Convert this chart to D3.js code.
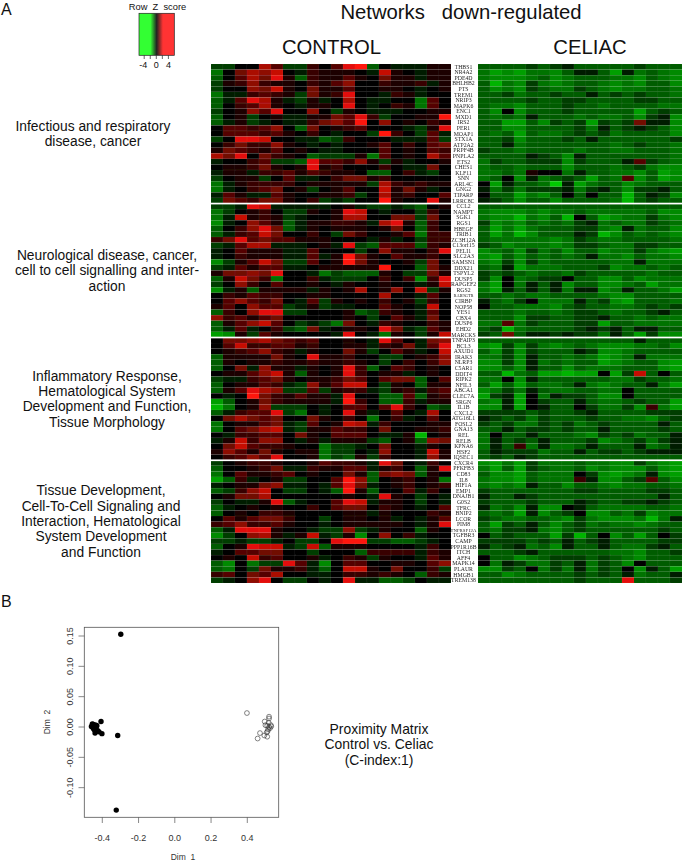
<!DOCTYPE html>
<html><head><meta charset="utf-8">
<script src="https://cdn.jsdelivr.net/npm/d3@7/dist/d3.min.js"></script>
<style>html,body{margin:0;padding:0;background:#fff}svg{display:block}</style>
</head><body><div id="chart"></div>
<script>
// Gene labels, one list per network
const genes1 = ["THBS1","NR4A2","PDE4D","BHLHB2","PTS","TREM1","NRIP3","MAPK6","ENC1","MXD1","IRS2","PER1","MOAP1","STX1A","ATP2A2","PRPF4B","PNPLA2","ETS2","CHES1","KLF11","SNN","ARL4C","GNG2","TIPARP","LRRC8C"];
const genes2 = ["CCL2","NAMPT","SGK1","RGS1","HBEGF","TRIB1","ZC3H12A","C13orf15","PELI1","SLC2A3","SAMSN1","DDX21","TSPYL2","DUSP5","RAPGEF2","RGS2","RAB9GTR","CIRBP","NOP58","YES1","CBX4","DUSP6","EHD2","MARCKS"];
const genes3 = ["TNFAIP3","BCL3","AXUD1","IRAK3","NLRP3","C5AR1","DDIT4","RIPK2","NFIL3","ABCA1","CLEC7A","SRGN","IL1B","CXCL2","ATG16L1","FOSL2","GNA13","REL","RELB","KPNA6","HSF2","IQSEC1"];
const genes4 = ["CXCR4","PFKFB3","CD83","IL8","HIF1A","EMP1","DNAJB1","G0S2","TFRC","BNIP2","LCOR","PIM8","TNFRSF12A","TGFBR3","CAMP","PPP1R16B","ITCH","AFF4","MAPK14","PLAUR","HMGB1","TREM138"];

// Heat values, in steps of -9 (full green) .. 9 (full red)
const control1 = [
[-2,-2,0,0,6,3,-2,-2,2,0,3,8,9,-3,0,-1,-1,-1,1,1],
[-4,0,4,6,5,7,0,-1,2,1,1,1,0,-1,7,1,0,-1,1,1],
[-3,0,3,6,4,8,1,-3,2,1,1,3,1,0,4,1,1,-1,1,1],
[-2,1,2,5,2,1,1,0,2,1,3,5,0,0,2,1,1,2,-1,1],
[-2,0,0,5,4,7,1,0,4,1,1,3,0,0,1,1,0,-1,0,1],
[-4,-1,-1,2,3,2,1,-2,4,1,2,8,0,0,-1,2,1,-1,0,0],
[-3,-1,3,8,6,1,-1,-2,1,-1,0,6,0,-1,-1,0,0,-4,3,0],
[-3,0,2,3,6,1,0,-1,1,1,0,8,0,-1,0,2,1,-4,3,0],
[-2,0,1,5,3,8,0,0,5,0,-2,1,0,-1,-1,-1,0,0,1,1],
[-3,0,1,-2,0,1,-1,-1,1,1,4,3,8,2,-2,0,0,1,1,9],
[-3,-1,1,-2,-1,0,-1,-1,2,4,5,3,9,0,5,0,1,0,2,1],
[0,3,3,2,3,5,0,-3,4,0,1,2,3,0,0,0,-1,-2,1,8],
[0,3,3,3,2,3,1,0,2,0,-1,0,0,-2,9,2,0,-2,3,-1],
[-2,0,8,8,7,0,0,-1,-1,-3,-2,2,0,0,0,-1,-1,-1,3,-2],
[0,2,4,2,2,5,1,0,-1,0,-1,0,0,1,3,0,2,0,3,4],
[1,4,3,2,1,3,0,1,0,-1,-1,0,0,0,3,0,1,0,3,2],
[6,4,8,0,4,2,1,0,-3,-2,-2,-2,1,-4,3,0,1,0,6,3],
[-1,0,0,2,3,-2,-2,-3,8,3,3,2,5,1,-2,1,-1,0,0,1],
[0,1,1,2,4,1,0,1,8,1,2,0,0,0,2,0,-1,-1,4,0],
[-1,1,1,-1,2,2,3,1,3,2,1,1,0,-3,-3,0,2,-1,-2,0],
[-2,0,1,1,-2,0,3,-1,-1,0,2,4,4,1,2,0,0,0,0,0],
[-4,-1,1,2,2,2,2,0,1,1,1,1,1,-2,6,2,1,2,1,1],
[-4,-1,0,2,3,4,0,1,-2,0,1,3,0,0,7,1,4,1,-1,0],
[-1,3,1,-1,-1,3,1,0,0,1,1,2,-2,0,6,1,2,0,0,3],
[-2,4,3,2,4,4,1,0,2,-2,-1,-2,0,0,9,1,0,0,8,1]];
const control2 = [
[-2,-2,-1,8,7,-1,-1,-1,-1,-1,0,1,-1,-2,-2,-1,-2,-3,0,1],
[-4,-2,0,1,2,0,-2,-2,1,0,1,8,7,0,-1,0,0,-2,2,0],
[-4,-1,7,1,2,1,-2,-1,0,0,1,6,6,0,0,4,4,-2,4,0],
[-5,-1,0,5,3,1,-3,-1,1,1,2,2,1,-1,6,8,1,-3,2,0],
[-3,0,2,5,8,4,-3,-1,1,0,1,1,1,0,1,4,0,-3,2,0],
[-3,-1,2,3,7,4,0,0,2,0,-2,4,2,0,0,1,3,-4,2,2],
[2,4,8,3,4,3,3,1,1,1,0,0,0,-1,1,-1,0,-2,2,2],
[-2,-1,3,6,6,-1,-1,-1,0,1,-1,8,-2,-3,3,3,3,-3,2,1],
[-1,0,3,1,1,1,-1,-1,3,0,0,0,-2,0,5,1,1,0,2,8],
[-1,0,2,1,1,1,-1,-1,3,-1,1,9,4,1,0,3,1,1,2,0],
[-5,-2,1,3,7,4,-2,-2,3,0,1,9,4,1,0,0,1,-2,4,0],
[-2,-1,3,1,3,3,-1,-1,0,1,1,1,1,1,9,0,0,-3,4,1],
[1,4,4,5,4,8,0,0,-1,-4,-2,-3,-3,-3,1,0,-2,-2,4,1],
[-3,1,7,4,2,-4,0,0,2,-1,-2,-2,-2,0,2,0,2,-5,2,8],
[-2,0,5,2,0,3,0,0,1,0,-1,1,0,0,1,0,0,-1,1,7],
[-5,-1,1,-3,1,1,1,1,-1,1,0,1,6,0,1,5,0,7,-2,1],
[0,2,1,3,2,2,0,0,1,1,0,0,0,0,6,0,0,-1,3,0],
[0,3,5,3,2,4,0,-1,3,-2,1,0,1,0,2,0,1,-2,2,0],
[1,3,0,5,3,3,-2,-1,1,-2,-1,-1,0,0,3,1,0,-1,7,0],
[-3,2,0,5,8,8,-2,-2,0,0,0,1,-3,-2,2,1,0,-1,3,0],
[5,2,3,1,3,4,0,0,0,0,0,1,0,-2,0,3,1,-1,4,0],
[-3,1,3,5,7,3,0,-2,-1,-2,-4,4,0,-1,2,1,0,0,2,1],
[-3,-1,3,-1,0,2,-2,-3,4,-1,0,1,1,0,8,4,-1,-2,3,1],
[-6,-5,1,-2,3,1,0,0,0,0,-1,8,0,-1,-4,1,0,-2,1,7]];
const control3 = [
[0,4,4,5,6,4,3,2,3,0,0,1,0,-1,8,3,0,-1,4,5],
[0,3,7,2,2,3,3,1,2,0,0,1,1,-1,2,1,4,-1,3,8],
[0,1,2,3,5,2,1,-1,1,0,0,4,1,-2,0,3,1,-1,0,7],
[-3,1,1,1,1,4,1,0,8,1,1,2,0,0,-2,-2,0,1,2,5],
[-3,1,0,1,1,2,1,1,2,1,1,2,1,0,-2,0,2,0,2,5],
[-3,0,4,-1,5,1,1,-1,1,0,1,8,2,-3,0,3,2,0,1,0],
[0,1,1,3,5,7,1,-3,1,0,1,8,2,0,1,1,-1,0,1,0],
[-2,-1,-1,2,3,4,1,0,1,1,2,4,3,0,3,4,4,-3,0,3],
[-3,0,1,1,3,2,-1,-2,5,1,3,7,7,0,-2,1,0,-3,1,1],
[-3,1,3,8,6,5,-2,-2,3,-2,1,2,2,-1,-2,1,2,-1,2,3],
[0,-1,0,9,4,2,1,3,1,1,-1,8,0,0,-3,-3,3,-3,1,2],
[-6,-3,0,1,4,2,1,1,1,1,-1,9,2,0,-3,-3,2,-1,1,1],
[-7,-4,0,1,5,-2,-2,-2,0,-1,0,3,3,0,3,8,2,0,-3,-2],
[-3,-1,2,3,3,8,-2,-4,0,-1,0,8,1,-1,0,3,0,-1,6,0],
[0,4,6,4,3,4,0,0,4,1,0,2,0,-4,0,2,-1,0,3,0],
[-4,0,1,1,3,4,-1,-2,3,0,1,7,6,-1,2,0,0,0,1,1],
[-4,0,3,4,6,7,-1,-2,1,1,3,2,2,0,4,0,0,1,1,2],
[0,-1,2,2,3,3,0,4,1,0,3,3,3,0,-1,-1,1,-7,0,1],
[-1,1,7,2,5,5,0,-1,1,-1,1,1,1,-2,-3,0,1,-3,5,4],
[0,4,7,3,2,2,1,0,0,-4,-2,-2,-1,0,4,0,0,-1,1,0],
[1,5,3,1,4,1,0,1,1,-4,-2,-2,0,-1,5,0,0,-1,7,1],
[0,2,3,5,3,8,0,0,1,-4,-2,-3,1,-2,2,0,0,-1,5,1]];
const control4 = [
[-2,0,1,2,2,1,0,0,1,3,2,2,1,-1,8,4,0,-1,2,0],
[-3,0,0,1,2,4,-1,-1,2,1,1,3,3,-1,1,2,0,-3,1,8],
[-4,0,3,1,1,2,3,0,1,0,0,4,1,-3,4,5,4,-3,1,0],
[-6,-3,2,-1,0,1,-2,-2,0,0,3,9,5,-3,0,1,2,0,1,-4],
[-1,0,1,1,4,5,-1,-1,0,-1,3,8,4,-1,0,1,2,0,1,2],
[-3,-2,2,5,7,0,-2,-2,0,-1,-3,9,1,-3,0,0,3,-1,2,0],
[0,1,4,4,6,0,0,0,0,0,0,1,0,-1,8,1,0,-2,0,-1],
[-2,0,-1,-1,1,8,-3,-1,0,0,3,8,7,-1,1,1,0,-2,0,-1],
[-3,-1,0,1,0,1,0,0,2,0,3,4,4,0,2,1,0,-1,0,3],
[-3,0,1,0,2,2,1,0,0,0,0,1,1,-1,1,0,0,0,2,1],
[0,3,1,3,4,4,2,0,0,-2,0,1,1,0,1,-1,0,-1,1,3],
[2,3,5,2,2,3,1,0,0,-1,0,1,1,1,1,1,0,-1,1,8],
[-3,-1,8,8,8,1,0,0,-1,-2,-2,5,-2,-1,1,0,0,-3,1,0],
[-5,-2,0,5,6,1,-1,1,7,-1,-2,1,-5,0,5,0,2,-1,0,0],
[-2,-2,-1,-2,-2,-1,0,-2,-2,0,8,9,9,-2,-2,-3,-3,-2,-1,0],
[-3,0,1,8,7,7,-1,-2,7,-3,1,1,1,0,0,0,0,-1,2,0],
[-1,0,3,3,4,4,0,0,-2,0,0,0,-3,2,2,2,2,-1,2,1],
[0,1,0,7,2,3,0,0,1,-1,0,2,1,-2,1,0,0,-1,3,1],
[-3,-5,0,-4,-2,-2,8,3,-1,-5,0,3,3,0,0,1,1,0,3,5],
[-3,-4,0,-2,4,1,1,2,-1,-3,0,7,7,1,0,4,0,0,2,-2],
[2,3,0,4,3,6,0,0,-1,-1,0,2,2,1,2,1,0,-3,2,1],
[-2,-1,0,5,8,0,-2,-2,0,-1,0,8,-1,-1,-3,-3,-2,0,-1,-1]];
const celiac1 = [
[-3,-3,-3,-3,-2,-3,-2,-1,-3,-3,-3,-3,-3,-2,-3,-3,-3],
[-4,-6,-5,-6,-4,-4,-5,-3,-1,-1,-3,-6,-1,-4,-3,-4,-5],
[-4,-5,-5,-5,-4,-3,-5,-4,-3,-3,-3,-4,-4,-5,-3,-4,-5],
[-3,-7,-4,-5,-2,-4,-5,-4,-3,-3,-4,-5,-4,-5,-3,-3,-5],
[-3,-5,-4,-5,-2,-3,-4,-4,-2,-3,-4,-5,-4,-4,-3,-3,-4],
[-3,-3,-2,-4,-3,-3,-2,-3,-3,-1,-3,-2,-3,-2,-3,-3,-4],
[-3,-3,-3,-3,-2,-3,-3,-2,-2,-3,-3,-3,-3,-2,-2,-3,-3],
[-3,-4,-4,-5,-3,-3,-3,-2,-3,-3,-4,-3,-3,-3,-3,-4,-4],
[-3,-5,0,-5,-3,-3,-3,-2,-3,-3,-3,-3,-3,-6,-3,-2,-3],
[-3,-4,-3,-4,-1,-3,-3,-3,-4,-3,-4,-4,-3,-5,-2,-1,-5],
[-3,-3,-6,-6,-3,-5,-2,-3,-2,-6,-2,-3,-2,4,-1,-1,-5],
[-3,-3,-5,-5,-3,-3,-3,-3,-2,-4,-1,-3,-2,-1,-2,-3,-5],
[-3,-4,-3,-6,-3,-4,-4,-3,-2,-3,-2,-4,-3,-3,-3,-3,-5],
[-3,-3,-2,-5,-3,-3,-3,-2,-3,-1,-3,-3,-3,-3,-3,-3,-2],
[-3,-3,-1,-4,-3,-3,-3,-3,-3,-3,-3,-4,-3,-2,-3,-3,-4],
[-2,-3,-3,-4,-3,-3,-3,-3,-4,-3,-3,-4,-4,-3,-3,-3,-4],
[-3,-3,-3,-3,-1,-2,-3,-5,-1,-3,-3,-3,-3,-3,-3,-3,-4],
[-4,-2,-3,-3,-2,-2,-2,-5,-2,-3,-3,-3,-1,3,-2,-3,-4],
[-4,-3,-3,-4,-3,-3,-3,-5,-3,-3,-3,-4,-3,-2,-4,-5,-5],
[-4,-4,-3,-4,1,0,0,-4,-1,-3,-3,-4,-4,-5,-3,-6,-5],
[-4,-3,0,-5,-1,-4,-3,-2,-3,-6,-3,-4,3,-5,-3,-6,-5],
[0,-6,-1,-3,-3,-4,-8,-1,-6,-4,-3,-3,-5,-4,-3,-3,-3],
[-1,-4,-2,-4,-2,-2,-2,-1,-4,-2,-1,-3,-5,-2,-2,-1,-3],
[0,-3,-3,-6,-4,-5,-3,0,-3,0,-3,-3,-7,-3,-1,-2,-5],
[-1,-2,-3,-5,-3,-3,-5,-3,-3,-3,-3,-4,-7,-3,-2,-3,-3]];
const celiac2 = [
[-3,-3,-3,-3,-3,-3,-3,-3,-3,-3,-3,-3,-3,-3,-3,-3,-3],
[-4,-5,-5,-5,-4,-5,-4,-4,-3,-4,-4,-4,-4,-4,-3,-5,-5],
[-4,-5,-5,-7,-4,-5,-3,-7,0,-3,-6,-5,-4,-4,-2,-4,-5],
[-2,-5,-4,-5,-3,-4,-3,-4,-2,-1,-4,-3,-4,-4,-2,-3,-4],
[-3,-6,-4,-6,-4,-3,-3,-3,-2,-2,-4,-5,-1,-4,-3,-3,-5],
[-3,-6,-4,-7,-5,-3,-3,-3,-1,-2,-7,-5,-3,-4,-3,-4,-5],
[-3,-4,-4,-4,-4,-4,-5,-4,-2,-3,-4,-4,-3,-3,-3,-3,-4],
[-2,-3,-5,-4,-4,-4,-5,-4,-2,-2,-3,-4,-4,-2,-2,-3,-3],
[-5,-4,-3,-5,-2,-4,-3,-5,-3,-3,-5,-4,-4,-2,-4,-5,-6],
[-5,-6,-3,-5,-3,-4,-3,-4,-3,-1,-4,-4,-5,-3,-4,-4,-5],
[-4,-5,-2,-5,-2,-4,-3,-3,-3,-3,-3,-4,-4,-1,-4,-4,-4],
[-3,-4,-1,-6,-4,-4,-4,-3,-3,-3,-2,-5,-4,-4,-3,-4,-3],
[-2,-3,-2,-3,-4,-3,-3,-4,-2,-3,-3,-3,-3,-3,-4,-3,-3],
[-2,-5,0,-4,-3,-2,-2,0,-3,-3,-5,-5,-3,-5,-4,-4,-4],
[-4,-6,0,-4,-1,-3,-1,-5,-3,-3,-5,-5,-4,-3,-6,-4,-4],
[-4,-6,-1,-3,-1,-3,-1,-4,-1,-1,-5,-4,-1,-3,-3,-4,-6],
[-3,-3,-4,-3,-4,-4,-3,-3,-3,-3,-4,-5,-5,-3,-3,-3,-3],
[-1,-3,-4,-2,0,-4,-4,-4,-1,-3,-2,-5,-6,-3,-3,-3,-4],
[0,-3,-3,-4,-4,-4,-5,-3,-2,-3,-3,-4,-4,-3,-2,-3,-2],
[-3,-3,-3,-4,-3,-3,-4,-3,-2,-2,-3,-4,-3,-3,-2,-1,-3],
[-3,-3,-3,-5,-2,-2,-3,-3,-2,-2,-1,-3,-3,-4,-3,-4,-4],
[-4,-4,3,-4,-2,-3,-3,-3,-2,-2,-6,-3,-3,-4,-4,-4,-4],
[-3,-2,-7,-4,-3,-3,-3,-3,-2,-1,-2,-1,-3,-1,-1,-3,-3],
[-2,-3,4,-3,-1,-1,-2,-1,-2,-2,-4,-1,-3,-6,-2,-5,-5]];
const celiac3 = [
[-3,-3,-3,-3,-3,-3,-3,-3,-3,-3,-3,-3,-3,-1,-3,-3,-3],
[-5,-6,-2,-5,-2,-4,-5,-4,-3,-4,-5,-5,-5,-4,-4,-3,-5],
[-3,-5,-2,-5,-2,-3,-3,-3,-1,-2,-5,-5,-4,-3,-3,-3,-3],
[-4,-4,-2,-5,-1,-3,-3,-4,-3,-4,-6,-5,-4,-1,-4,-4,-4],
[-5,-5,-2,-5,-1,-4,-3,-4,-3,-3,-6,-5,-4,-3,-3,-5,-6],
[-5,-5,-3,-5,-1,-3,-3,-5,-3,-4,-4,-4,-3,-3,-3,-5,-6],
[-3,-3,-7,-4,-3,-6,-6,-7,-6,-6,0,-6,-2,7,-3,0,-3],
[-4,-4,0,-5,-1,-3,-3,-3,-3,-3,-3,-4,-4,-2,-3,-3,-4],
[-3,-6,-3,-6,-3,-4,-4,-3,-1,-4,-5,-4,-3,-3,-1,-4,-6],
[-5,-4,-2,-4,-1,-3,-4,-4,-3,-3,-4,-4,0,-3,-3,-3,-3],
[-6,-2,-1,-6,0,-4,-1,-2,-2,-3,-5,-5,0,-3,-3,-3,-3],
[-4,-5,-1,-6,0,-2,-3,-3,-1,-3,-4,-4,-3,-2,-3,-3,-6],
[-5,-5,-1,-6,0,-1,-3,-3,0,-2,-4,-4,-2,-5,2,-4,-6],
[-2,-2,-2,-2,-3,-2,-3,-3,-2,-1,-3,-3,-3,-3,-2,-2,-2],
[-1,-2,-3,-2,-4,-2,-3,-3,-3,-2,-3,-3,-4,-4,-5,-3,-2],
[-2,-3,-2,-4,-4,-2,-3,-2,-4,-3,-2,-3,-3,-3,-3,-1,-3],
[-3,-3,-1,-3,-2,-2,-3,-2,-3,-3,-1,-3,-3,-3,-3,-2,-3],
[-4,0,-3,-3,-1,-3,-3,-3,-4,-5,-2,-3,-2,-4,-3,-3,-1],
[-4,-1,-3,-2,-3,-1,-3,-3,-3,-2,-5,-4,-3,-2,-4,-2,-1],
[-4,-1,-3,2,-4,-1,-4,-4,-3,-1,-3,-3,-3,-1,-4,-3,-1],
[-3,-1,-2,-2,-2,-4,-3,-3,-1,-3,-2,-2,-3,-2,-1,-1,-1],
[-3,-2,-3,-1,-2,-3,-3,-3,-3,-3,-3,-3,-3,-3,-3,-3,-3]];
const celiac4 = [
[-5,-6,-4,-6,-2,-4,-4,-4,-3,-4,-4,-5,-5,-2,-4,-5,-6],
[-4,-6,-3,-6,-2,-3,-4,-4,-3,-5,-4,-5,-5,-5,-3,-5,-6],
[-3,-5,-5,-6,-3,-4,-4,-4,0,-2,-5,-6,-5,-4,-1,-5,-6],
[-4,-5,-5,-6,-3,-4,-4,-4,2,-1,-5,-5,-3,-2,3,-3,-5],
[-4,-5,-4,-5,-1,-3,-3,-5,-3,-3,-4,-5,-4,-4,-3,-3,-4],
[-2,-3,-3,-3,-3,-3,-3,-3,-2,-2,-3,-3,-3,-3,-2,-2,-3],
[-1,-3,-3,-1,-2,-3,-3,-3,-3,-3,-3,-3,-3,-3,-3,-1,-3],
[-2,-3,-3,-3,-2,-3,-3,-3,-1,-2,-3,-3,-2,-2,-1,-2,-3],
[-1,-4,-3,-5,-1,-5,-5,0,-1,-3,-4,-4,-4,-4,-3,-3,-4],
[-3,-4,-3,-6,-1,-5,-3,-2,0,-5,-5,-3,-4,-2,-5,-4,-4],
[-2,-3,-4,-4,-3,-3,-4,-5,-2,-4,-5,-5,-5,-4,-7,-4,-1],
[-3,-6,-2,-3,-1,-3,-5,-3,-2,-4,-3,-4,-4,-5,-4,-3,-3],
[-3,-4,-2,-2,-1,-4,-5,-3,-2,-3,-3,-3,-3,-3,-3,-2,-3],
[0,-3,-2,-3,-3,-3,-6,-2,-7,-3,0,-5,-3,-6,-3,0,-2],
[-2,-2,-2,-2,-3,-2,-3,-1,-3,-2,-1,-3,-3,-3,-3,-2,-2],
[-1,-3,-2,-1,-4,-3,-5,-1,-3,-3,-1,-3,-4,-4,-2,-1,-3],
[-3,-3,-3,-2,-1,-3,-3,-3,-3,-3,-3,-4,-4,-5,-3,-3,-2],
[0,-3,-3,-5,-4,-3,-2,-2,-2,-3,-2,-3,-4,-5,-3,-3,-3],
[0,-4,-1,-2,-4,-4,-2,-3,-1,-4,-2,-3,-5,0,-3,-3,-3],
[-5,-5,-2,-3,0,-4,-2,-4,-1,-4,-2,-3,0,-5,-1,-3,-6],
[-3,-3,-5,-4,-3,-3,-3,-3,-2,-3,-2,-3,-1,-4,-3,-3,-1],
[-3,-3,-3,-3,-3,-3,-3,-3,-2,-3,-3,-3,8,-3,-3,-3,-2]];

// Legend ticks
const legendTicks = [-4,-2,0,2,4];
const legendLabels = [-4,0,4];

// MDS proximity points [Dim 1, Dim 2]
const controlPoints = [[-0.298,0.153],[-0.407,0.009],[-0.315,-0.014],[-0.323,-0.137],[-0.402,-0.011],[-0.44,-0.010],[-0.46,0.001],[-0.455,0.005],[-0.45,-0.002],[-0.445,0.001],[-0.44,0.003],[-0.435,-0.002],[-0.43,0.002],[-0.44,-0.005],[-0.425,-0.006],[-0.45,0.004],[-0.435,0.003],[-0.445,-0.004],[-0.418,-0.008]];
const celiacPoints = [[0.398,0.023],[0.52,0.017],[0.52,0.014],[0.496,0.009],[0.518,0.007],[0.50,0.003],[0.51,0.002],[0.532,0.001],[0.52,0],[0.525,-0.002],[0.515,-0.004],[0.507,-0.009],[0.512,-0.007],[0.47,-0.01],[0.494,-0.014],[0.51,-0.016],[0.457,-0.019],[0.53,0.003]];
const xTicks = [-0.4,-0.2,0,0.2,0.4];
const yTicks = [-0.10,-0.05,0,0.05,0.10,0.15];

// Text blocks
const pathwayLabels = [
 {cx:93, y:[130.7,146], lines:["Infectious and respiratory","disease, cancer"]},
 {cx:107, y:[260,275.3,290.7], lines:["Neurological disease, cancer,","cell to cell signalling and inter-","action"]},
 {cx:107, y:[380.7,396,411,426.7], lines:["Inflammatory Response,","Hematological System","Development and Function,","Tissue Morphology"]},
 {cx:101, y:[495.3,510.7,526,541.3,556.7], lines:["Tissue Development,","Cell-To-Cell Signaling and","Interaction, Hematological","System Development","and Function"]}
];
const proximityLines = ["Proximity Matrix","Control vs. Celiac","(C-index:1)"];

const W=683,H=863;
const sans='"Liberation Sans",Arial,sans-serif', serif='"Liberation Serif","Times New Roman",serif';
const svg=d3.select("#chart").append("svg").attr("width",W).attr("height",H).attr("viewBox",`0 0 ${W} ${H}`);
const rootDefs=svg.append("defs");
rootDefs.append("filter").attr("id","soft").attr("x","-1%").attr("y","-1%").attr("width","102%").attr("height","102%")
  .append("feGaussianBlur").attr("stdDeviation",0.45);

// Colours
const heatColor=d3.scaleLinear().domain([-9,-7,-5,-3,0,9]).range(["#00e000","#00b400","#008a00","#005c00","#000000","#ff1208"]).clamp(true).interpolate(d3.interpolateRgb);

// Heatmaps
const genes=[...genes1,...genes2,...genes3,...genes4];
const yRow=d3.scaleBand().domain(d3.range(genes.length)).range([64,583]);
const controlRows=[...control1,...control2,...control3,...control4];
const celiacRows=[...celiac1,...celiac2,...celiac3,...celiac4];
function heat(rows,x0,x1,nc){
  const xc=d3.scaleBand().domain(d3.range(nc)).range([x0,x1]);
  const g=svg.append("g").attr("filter","url(#soft)");
  rows.forEach((row,i)=>{
    g.selectAll(null).data(row).enter().append("rect")
      .attr("x",(d,j)=>xc(j)).attr("y",yRow(i))
      .attr("width",xc.bandwidth()).attr("height",yRow.bandwidth())
      .attr("fill",d=>heatColor(d))
      .attr("stroke","#ffffff").attr("stroke-opacity",0.07).attr("stroke-width",0.5);
  });
}
heat(controlRows,211,451,20);
heat(celiacRows,478,682,17);

// Separators between networks
const seps=[genes1.length,genes1.length+genes2.length,genes1.length+genes2.length+genes3.length];
svg.selectAll(".sep").data(seps).enter().append("rect").attr("class","sep")
  .attr("x",211).attr("width",472).attr("y",d=>yRow(d)-0.8).attr("height",1.7).attr("fill","#ffffff");

// Gene labels
svg.append("g").attr("opacity",0.99).selectAll("text").data(genes).enter().append("text")
  .attr("x",463.5).attr("y",(d,i)=>yRow(i)+yRow.bandwidth()/2+1.9)
  .attr("text-anchor","middle").attr("font-family",serif)
  .attr("font-size",d=>d.length>=9?4.8:(d=="RAB9GTR"?4.4:5.8)).attr("fill","#222").text(d=>d);

// Titles
const txt=(s,x,y,size,anchor="middle",fill="#111")=>svg.append("text").attr("x",x).attr("y",y).attr("font-family",sans).attr("font-size",size).attr("text-anchor",anchor).attr("fill",fill).attr("xml:space","preserve").style("white-space","pre").text(s);
txt("A",1,14.5,16,"start");
txt("B",1,607,16,"start");
txt("Networks   down-regulated",461,18.6,20.3);
txt("CONTROL",331.5,53.5,20.3);
txt("CELIAC",590,53.5,20.3);

pathwayLabels.forEach(b=>b.lines.forEach((l,i)=>txt(l,b.cx,b.y[i],13.8)));
proximityLines.forEach((l,i)=>txt(l,379,[734,749.3,765][i],13.9));

// Legend
const xLeg=d3.scaleLinear().domain([-4,4]).range([144.2,168.4]);
const legColor=d3.scaleLinear().domain([-5,-2,0,2,5]).range(["#33ff33","#33ff33","#222222","#ff3333","#ff3333"]);
const defs=rootDefs.append("linearGradient").attr("id","lg");
d3.range(-5.6,5.61,0.4).forEach(v=>defs.append("stop").attr("offset",(v+5.6)/11.2).attr("stop-color",legColor(v)));
svg.append("rect").attr("x",139).attr("y",13.3).attr("width",35.3).attr("height",42).attr("fill","url(#lg)").attr("stroke","#222").attr("stroke-width",0.7);
svg.append("g").selectAll("line").data(legendTicks).enter().append("line")
  .attr("x1",d=>xLeg(d)).attr("x2",d=>xLeg(d)).attr("y1",55.3).attr("y2",59).attr("stroke","#222").attr("stroke-width",0.7);
legendLabels.forEach(d=>txt(String(d),xLeg(d)-(d<0?1:0),68,9));
txt("Row  Z  score",157.5,10,9.3);

// Scatter
const x=d3.scaleLinear().domain([-0.4,0.4]).range([102.3,247.3]);
const y=d3.scaleLinear().domain([0,0.15]).range([727,636]);
const gray="#555";
svg.append("rect").attr("x",84.3).attr("y",627.3).attr("width",194.4).attr("height",190).attr("fill","none").attr("stroke",gray).attr("stroke-width",0.8);
svg.append("g").selectAll("line").data(xTicks).enter().append("line").attr("x1",d=>x(d)).attr("x2",d=>x(d)).attr("y1",817.3).attr("y2",823).attr("stroke",gray).attr("stroke-width",0.7);
svg.append("g").selectAll("line").data(yTicks).enter().append("line").attr("y1",d=>y(d)).attr("y2",d=>y(d)).attr("x1",78.5).attr("x2",84.3).attr("stroke",gray).attr("stroke-width",0.7);
const fmtX=d3.format(".1f"), fmtY=d3.format(".2f");
xTicks.forEach(d=>txt(fmtX(d).replace("−","-"),x(d),840.5,9,"middle","#333"));
yTicks.forEach(d=>svg.append("text").attr("transform",`translate(73,${y(d)}) rotate(-90)`).attr("text-anchor","middle").attr("font-family",sans).attr("font-size",9).attr("fill","#333").text(fmtY(d).replace("−","-")));
svg.append("text").attr("transform","translate(49.5,722) rotate(-90)").attr("text-anchor","middle").attr("font-family",sans).attr("font-size",8.5).attr("fill","#333").attr("xml:space","preserve").style("white-space","pre").text("Dim  2");
txt("Dim  1",183,860,8.5,"middle","#333");
svg.append("g").selectAll("circle").data(controlPoints).enter().append("circle").attr("cx",d=>x(d[0])).attr("cy",d=>y(d[1])).attr("r",2.7).attr("fill","#000");
svg.append("g").selectAll("circle").data(celiacPoints).enter().append("circle").attr("cx",d=>x(d[0])).attr("cy",d=>y(d[1])).attr("r",2.4).attr("fill","none").attr("stroke","#333").attr("stroke-width",0.6);
</script></body></html>
